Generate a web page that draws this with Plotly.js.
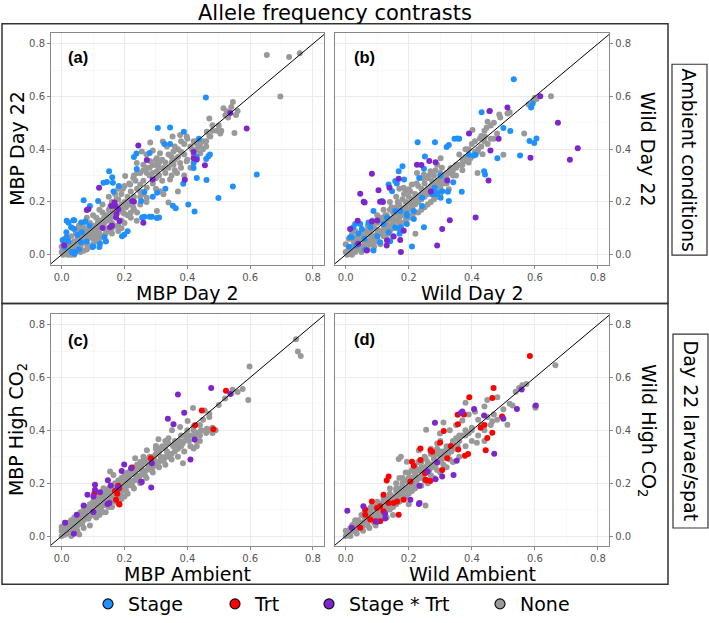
<!DOCTYPE html>
<html>
<head>
<meta charset="utf-8">
<script src="https://cdn.plot.ly/plotly-3.0.1.min.js"></script>
<style>html,body{margin:0;padding:0;background:#fff;}#chart{width:709px;height:623px;}</style>
</head>
<body>
<div id="chart"></div>
<script>
// ---------------- DATA ----------------
const legendLabels = ['Stage', 'Trt', 'Stage * Trt', 'None'];
const panelLabels = ['(a)', '(b)', '(c)', '(d)'];
const xTitles = ['MBP Day 2', 'Wild Day 2', 'MBP Ambient', 'Wild Ambient'];
const yTitles = ['MBP Day 22', 'Wild Day 22', 'MBP High CO<sub>2</sub>', 'Wild High CO<sub>2</sub>'];
const stripLabels = ['Ambient conditions', 'Day 22 larvae/spat'];
const tickVals = [0, 0.2, 0.4, 0.6, 0.8];
const identity = [-0.1, 1.0];

// Panel (a): MBP Day 2 vs MBP Day 22
const aNone = [[0.653,0.757],[0.724,0.75],[0.758,0.764],[0.696,0.60],[0.545,0.579],[0.526,0.544],[0.56,0.545],[0.521,0.529],[0.55,0.461],[0.508,0.47],[0.494,0.47],[0.47,0.516],[0.48,0.491],[0.462,0.466],[0.473,0.448],[0.441,0.423],[0.45,0.43],[0.43,0.398],[0.441,0.385],[0.398,0.354],[0.377,0.348],[0.356,0.341],[0.367,0.31],[0.345,0.285],[0.324,0.329],[0.303,0.316],[0.29,0.31],[0.271,0.31],[0.26,0.341],[0.282,0.354],[0.303,0.366],[0.313,0.385],[0.335,0.41],[0.353,0.448],[0.377,0.454],[0.398,0.448],[0.356,0.391],[0.322,0.429],[0.282,0.425],[0.255,0.391],[0.239,0.348],[0.228,0.291],[0.202,0.298],[0.218,0.266],[0.25,0.266],[0.271,0.254],[0.29,0.27],[0.313,0.241],[0.271,0.216],[0.25,0.22],[0.228,0.179],[0.239,0.129],[0.303,0.166],[0.324,0.229],[0.34,0.198],[0.37,0.24],[0.39,0.3],[0.41,0.33],[0.43,0.42],[0.45,0.4],[0.46,0.41],[0.415,0.4],[0.42,0.43],[0.38,0.39],[0.36,0.36],[0.34,0.33],[0.31,0.3],[0.3,0.29],[0.28,0.3],[0.26,0.28],[0.27,0.33],[0.25,0.31],[0.24,0.25],[0.22,0.24],[0.21,0.22],[0.2,0.2],[0.19,0.23],[0.18,0.21],[0.17,0.19],[0.16,0.2],[0.15,0.17],[0.14,0.15],[0.13,0.16],[0.12,0.13],[0.11,0.14],[0.1,0.11],[0.09,0.12],[0.08,0.09],[0.07,0.1],[0.06,0.07],[0.05,0.06],[0.04,0.05],[0.03,0.04],[0.02,0.03],[0.01,0.02],[0.0,0.01],[0.005,0.0],[0.015,0.005],[0.025,0.015],[0.035,0.02],[0.045,0.03],[0.055,0.04],[0.065,0.05],[0.075,0.06],[0.085,0.07],[0.095,0.08],[0.105,0.09],[0.115,0.1],[0.125,0.11],[0.135,0.12],[0.145,0.13],[0.155,0.14],[0.165,0.15],[0.175,0.16],[0.185,0.17],[0.195,0.16],[0.205,0.18],[0.215,0.19],[0.16,0.12],[0.14,0.1],[0.12,0.08],[0.1,0.06],[0.08,0.04],[0.06,0.03],[0.04,0.02],[0.02,0.01],[0.01,0.04],[0.02,0.06],[0.03,0.07],[0.05,0.09],[0.06,0.1],[0.07,0.12],[0.08,0.14],[0.1,0.15],[0.12,0.17],[0.13,0.19],[0.15,0.22],[0.17,0.23],[0.2,0.26],[0.23,0.3],[0.18,0.25],[0.11,0.07],[0.13,0.07],[0.15,0.09],[0.17,0.11],[0.19,0.13],[0.21,0.15],[0.23,0.17],[0.25,0.19],[0.27,0.2],[0.22,0.14],[0.26,0.23],[0.3,0.25],[0.32,0.28],[0.35,0.3],[0.33,0.35],[0.31,0.33],[0.29,0.34],[0.36,0.32],[0.38,0.33],[0.4,0.36],[0.42,0.38],[0.44,0.41],[0.39,0.42],[0.37,0.4],[0.35,0.37],[0.46,0.43],[0.47,0.45],[0.48,0.47],[0.5,0.49],[0.53,0.52],[0.515,0.555],[0.54,0.56],[0.555,0.53],[0.505,0.46],[0.24,0.16],[0.2,0.12],[0.18,0.09],[0.14,0.05],[0.09,0.03],[0.07,0.015],[0.03,0.0],[0.0,0.03],[0.005,0.05],[0.01,0.06],[0.27,0.38],[0.29,0.395],[0.3,0.36],[0.2,0.155],[0.16,0.08],[0.11,0.05],[0.02,0.0],[0.03,0.025],[0.05,0.035],[0.06,0.055],[0.07,0.045],[0.09,0.065],[0.1,0.09],[0.11,0.1],[0.12,0.12],[0.13,0.13],[0.14,0.14],[0.15,0.15],[0.16,0.16],[0.17,0.17],[0.18,0.18],[0.19,0.19],[0.13,0.11],[0.15,0.13],[0.17,0.15],[0.19,0.17],[0.21,0.2],[0.23,0.22],[0.25,0.24],[0.1,0.04],[0.08,0.02],[0.06,0.01],[0.04,0.0],[0.12,0.06],[0.14,0.08],[0.16,0.1],[0.18,0.11],[0.22,0.16],[0.19,0.1],[0.045,0.08],[0.035,0.1],[0.055,0.11],[0.075,0.08],[0.095,0.1],[0.115,0.12],[0.135,0.14],[0.155,0.185],[0.175,0.21],[0.195,0.25],[0.215,0.27],[0.235,0.28],[0.24,0.31],[0.26,0.32],[0.28,0.33],[0.3,0.34],[0.32,0.36],[0.34,0.38],[0.36,0.41],[0.38,0.43],[0.4,0.44],[0.31,0.35],[0.33,0.31],[0.35,0.35],[0.37,0.37],[0.39,0.38],[0.41,0.41],[0.43,0.43]];
const aStage = [[0.459,0.596],[0.306,0.48],[0.345,0.482],[0.389,0.466],[0.437,0.44],[0.238,0.384],[0.28,0.386],[0.327,0.42],[0.345,0.42],[0.467,0.373],[0.472,0.38],[0.46,0.363],[0.42,0.329],[0.43,0.291],[0.461,0.283],[0.621,0.304],[0.545,0.259],[0.499,0.215],[0.403,0.19],[0.423,0.164],[0.354,0.186],[0.363,0.176],[0.31,0.141],[0.287,0.144],[0.263,0.144],[0.199,0.076],[0.387,0.269],[0.151,0.316],[0.144,0.276],[0.161,0.294],[0.239,0.325],[0.133,0.273],[0.163,0.273],[0.182,0.26],[0.07,0.206],[0.09,0.185],[0.116,0.204],[0.016,0.129],[0.04,0.131],[0.062,0.122],[0.075,0.126],[0.088,0.11],[0.04,0.097],[0.009,0.029],[0.04,0.004],[0.12,0.029],[0.099,0.029],[0.136,0.066],[0.192,0.07],[0.21,0.089],[0.253,0.204],[0.256,0.141],[0.28,0.144],[0.303,0.139],[0.304,0.235],[0.29,0.22],[0.022,0.121],[0.037,0.131],[0.03,0.104],[0.064,0.085],[0.1,0.031],[0.122,0.041],[0.141,0.051],[0.061,0.047],[0.032,0.01],[0.044,0.011],[0.016,0.066],[0.003,0.056],[0.022,0.05],[0.055,0.02],[0.08,0.05],[0.015,0.085],[0.05,0.075],[0.165,0.24],[0.23,0.37],[0.42,0.348],[0.33,0.25],[0.43,0.37],[0.263,0.238]];
const aInter = [[0.537,0.537],[0.589,0.479],[0.244,0.414],[0.271,0.359],[0.42,0.389],[0.42,0.366],[0.43,0.361],[0.456,0.339],[0.392,0.284],[0.119,0.254],[0.085,0.172],[0.26,0.121],[0.13,0.101],[0.154,0.104],[0.175,0.154],[0.18,0.172],[0.17,0.185],[0.23,0.201],[0.008,0.036],[0.08,0.169],[0.168,0.198],[0.158,0.185],[0.173,0.141],[0.184,0.128],[0.16,0.11],[0.224,0.204],[0.29,0.285]];

// Panel (b): Wild Day 2 vs Wild Day 22
const bNone = [[0.651,0.601],[0.596,0.585],[0.605,0.59],[0.566,0.46],[0.5,0.379],[0.513,0.535],[0.487,0.532],[0.455,0.544],[0.402,0.4725],[0.45,0.504],[0.447,0.481],[0.441,0.448],[0.426,0.441],[0.418,0.391],[0.434,0.381],[0.396,0.366],[0.375,0.354],[0.418,0.31],[0.354,0.341],[0.333,0.329],[0.301,0.366],[0.29,0.341],[0.269,0.316],[0.248,0.304],[0.226,0.31],[0.274,0.279],[0.301,0.266],[0.327,0.248],[0.221,0.079],[0.2,0.248],[0.21,0.266],[0.184,0.254],[0.35,0.33],[0.34,0.3],[0.32,0.31],[0.31,0.29],[0.3,0.31],[0.28,0.3],[0.26,0.29],[0.25,0.27],[0.24,0.25],[0.23,0.26],[0.22,0.23],[0.21,0.21],[0.2,0.22],[0.19,0.2],[0.18,0.21],[0.17,0.19],[0.16,0.18],[0.15,0.16],[0.14,0.17],[0.13,0.15],[0.12,0.13],[0.11,0.14],[0.1,0.12],[0.09,0.1],[0.08,0.09],[0.07,0.08],[0.06,0.07],[0.05,0.06],[0.04,0.05],[0.03,0.04],[0.02,0.03],[0.01,0.02],[0.0,0.01],[0.0,0.04],[0.01,0.06],[0.02,0.08],[0.03,0.09],[0.005,0.0],[0.015,0.005],[0.03,0.01],[0.045,0.02],[0.06,0.03],[0.075,0.04],[0.09,0.05],[0.1,0.06],[0.11,0.08],[0.12,0.09],[0.13,0.1],[0.14,0.11],[0.15,0.12],[0.16,0.13],[0.17,0.14],[0.18,0.15],[0.19,0.16],[0.2,0.17],[0.21,0.18],[0.22,0.19],[0.23,0.2],[0.24,0.21],[0.25,0.22],[0.26,0.23],[0.27,0.24],[0.28,0.25],[0.29,0.26],[0.3,0.28],[0.31,0.27],[0.32,0.29],[0.33,0.31],[0.34,0.32],[0.36,0.34],[0.37,0.36],[0.38,0.37],[0.39,0.4],[0.4,0.42],[0.41,0.43],[0.43,0.45],[0.44,0.47],[0.46,0.49],[0.47,0.5],[0.49,0.52],[0.52,0.54],[0.58,0.57],[0.6,0.595],[0.035,0.065],[0.05,0.085],[0.07,0.11],[0.085,0.13],[0.1,0.15],[0.12,0.17],[0.14,0.2],[0.16,0.22],[0.17,0.25],[0.19,0.24],[0.08,0.06],[0.1,0.08],[0.12,0.11],[0.135,0.08],[0.15,0.1],[0.17,0.12],[0.19,0.13],[0.21,0.15],[0.23,0.16],[0.25,0.18],[0.27,0.2],[0.29,0.22],[0.15,0.07],[0.13,0.06],[0.11,0.04],[0.09,0.03],[0.07,0.02],[0.05,0.01],[0.02,0.015],[0.04,0.035],[0.06,0.05],[0.08,0.075],[0.1,0.095],[0.12,0.115],[0.14,0.135],[0.16,0.155],[0.18,0.175],[0.2,0.195],[0.22,0.21],[0.24,0.23],[0.26,0.25],[0.28,0.27],[0.3,0.25],[0.32,0.27],[0.35,0.3],[0.37,0.32],[0.39,0.35],[0.36,0.38],[0.38,0.4],[0.42,0.4],[0.44,0.43],[0.46,0.44],[0.48,0.46],[0.05,0.03],[0.07,0.05],[0.09,0.07],[0.11,0.09],[0.13,0.12],[0.15,0.14],[0.17,0.16],[0.19,0.18],[0.21,0.2],[0.23,0.22],[0.25,0.24],[0.27,0.26],[0.29,0.28],[0.31,0.3],[0.33,0.32],[0.35,0.34],[0.37,0.34],[0.39,0.37],[0.41,0.39],[0.43,0.41],[0.45,0.42],[0.47,0.44],[0.2,0.14],[0.22,0.16],[0.24,0.17],[0.26,0.19],[0.28,0.21],[0.3,0.23],[0.18,0.12],[0.16,0.1],[0.14,0.09],[0.12,0.07],[0.1,0.05],[0.08,0.04],[0.06,0.04],[0.04,0.02],[0.02,0.0],[0.01,0.01],[0.03,0.02],[0.025,0.05],[0.045,0.07],[0.065,0.09],[0.085,0.11],[0.105,0.13],[0.125,0.15],[0.145,0.18],[0.165,0.2],[0.185,0.23],[0.205,0.24],[0.225,0.27],[0.245,0.29],[0.265,0.3],[0.285,0.32],[0.305,0.33]];
const bStage = [[0.533,0.665],[0.588,0.558],[0.593,0.573],[0.431,0.54],[0.522,0.469],[0.354,0.441],[0.345,0.44],[0.36,0.44],[0.327,0.416],[0.32,0.408],[0.283,0.426],[0.228,0.426],[0.412,0.379],[0.406,0.376],[0.439,0.316],[0.442,0.304],[0.481,0.366],[0.553,0.376],[0.583,0.431],[0.598,0.424],[0.605,0.441],[0.368,0.239],[0.341,0.275],[0.324,0.239],[0.29,0.235],[0.282,0.254],[0.248,0.326],[0.233,0.291],[0.251,0.372],[0.18,0.335],[0.157,0.279],[0.162,0.27],[0.185,0.285],[0.242,0.185],[0.248,0.104],[0.216,0.135],[0.194,0.154],[0.21,0.031],[0.171,0.079],[0.175,0.104],[0.141,0.051],[0.109,0.047],[0.088,0.166],[0.12,0.116],[0.078,0.104],[0.046,0.116],[0.024,0.104],[0.014,0.066],[0.033,0.035],[0.062,0.019],[0.088,0.016],[0.131,0.141],[0.157,0.166],[0.242,0.216],[0.274,0.229],[0.301,0.216],[0.168,0.316],[0.136,0.266],[0.147,0.241],[0.115,0.204],[0.03,0.116],[0.019,0.066],[0.051,0.097],[0.072,0.122],[0.136,0.085],[0.157,0.104],[0.173,0.091],[0.194,0.116],[0.194,0.148],[0.216,0.166],[0.173,0.166],[0.285,0.229],[0.306,0.241],[0.327,0.204],[0.01,0.03],[0.04,0.08],[0.06,0.06],[0.1,0.07],[0.5,0.48],[0.39,0.38],[0.3,0.3]];
const bInter = [[0.617,0.601],[0.513,0.558],[0.457,0.545],[0.391,0.46],[0.485,0.44],[0.459,0.395],[0.586,0.368],[0.673,0.5],[0.736,0.404],[0.711,0.36],[0.453,0.281],[0.412,0.141],[0.33,0.131],[0.29,0.035],[0.175,0.01],[0.083,0.307],[0.046,0.231],[0.057,0.201],[0.104,0.244],[0.109,0.201],[0.118,0.2],[0.139,0.254],[0.168,0.288],[0.226,0.341],[0.285,0.351],[0.322,0.281],[0.184,0.091],[0.152,0.069],[0.13,0.035],[0.083,0.126],[0.04,0.041],[0.067,0.016],[0.06,0.198],[0.038,0.129],[0.014,0.097],[0.173,0.056],[0.131,0.054],[0.306,0.097],[0.24,0.34],[0.265,0.355],[0.1,0.13],[0.27,0.24]];

// Panel (c): MBP Ambient vs MBP High CO2
const cNone = [[0.746,0.744],[0.752,0.698],[0.761,0.681],[0.598,0.641],[0.594,0.515],[0.576,0.556],[0.544,0.553],[0.5,0.496],[0.47,0.463],[0.462,0.406],[0.475,0.403],[0.441,0.396],[0.43,0.39],[0.418,0.484],[0.401,0.435],[0.377,0.4125],[0.351,0.4],[0.308,0.366],[0.3,0.341],[0.329,0.331],[0.356,0.344],[0.37,0.35],[0.386,0.275],[0.42,0.331],[0.271,0.325],[0.287,0.294],[0.255,0.281],[0.234,0.294],[0.228,0.244],[0.207,0.2],[0.188,0.169],[0.165,0.231],[0.154,0.244],[0.133,0.181],[0.069,0.0875],[0.056,0.006],[0.45,0.44],[0.44,0.42],[0.42,0.4],[0.41,0.38],[0.4,0.37],[0.39,0.36],[0.38,0.34],[0.37,0.33],[0.36,0.32],[0.35,0.31],[0.34,0.3],[0.33,0.3],[0.32,0.29],[0.31,0.28],[0.3,0.27],[0.29,0.26],[0.28,0.255],[0.27,0.25],[0.26,0.24],[0.25,0.23],[0.24,0.22],[0.23,0.21],[0.22,0.2],[0.21,0.19],[0.2,0.18],[0.19,0.17],[0.18,0.16],[0.17,0.15],[0.16,0.14],[0.15,0.135],[0.14,0.125],[0.13,0.115],[0.12,0.105],[0.11,0.095],[0.1,0.085],[0.09,0.075],[0.08,0.07],[0.07,0.06],[0.06,0.05],[0.05,0.04],[0.04,0.03],[0.03,0.02],[0.02,0.015],[0.01,0.005],[0.0,0.0],[0.005,0.02],[0.015,0.03],[0.025,0.04],[0.035,0.05],[0.045,0.06],[0.055,0.07],[0.065,0.08],[0.075,0.09],[0.085,0.1],[0.095,0.11],[0.105,0.12],[0.115,0.13],[0.125,0.14],[0.135,0.15],[0.145,0.16],[0.155,0.17],[0.165,0.18],[0.175,0.19],[0.185,0.2],[0.195,0.21],[0.205,0.22],[0.215,0.23],[0.225,0.24],[0.235,0.25],[0.245,0.26],[0.255,0.27],[0.265,0.28],[0.3,0.31],[0.31,0.33],[0.32,0.34],[0.33,0.36],[0.34,0.37],[0.3,0.33],[0.28,0.3],[0.26,0.3],[0.24,0.27],[0.22,0.25],[0.2,0.23],[0.18,0.21],[0.16,0.19],[0.14,0.17],[0.12,0.15],[0.1,0.13],[0.08,0.11],[0.06,0.09],[0.04,0.07],[0.02,0.05],[0.01,0.035],[0.11,0.07],[0.13,0.09],[0.15,0.11],[0.17,0.13],[0.19,0.14],[0.21,0.16],[0.23,0.18],[0.25,0.2],[0.27,0.22],[0.29,0.24],[0.31,0.26],[0.33,0.27],[0.35,0.29],[0.37,0.3],[0.39,0.32],[0.41,0.34],[0.43,0.36],[0.44,0.38],[0.46,0.39],[0.48,0.41],[0.49,0.4],[0.47,0.45],[0.455,0.475],[0.42,0.415],[0.4,0.4],[0.38,0.38],[0.36,0.36],[0.34,0.35],[0.54,0.54],[0.52,0.52],[0.56,0.545],[0.09,0.04],[0.07,0.03],[0.05,0.02],[0.03,0.0],[0.2,0.15],[0.18,0.13],[0.16,0.11],[0.14,0.09],[0.12,0.08],[0.025,0.01],[0.045,0.025],[0.065,0.045],[0.085,0.065],[0.105,0.08],[0.125,0.1],[0.145,0.115],[0.165,0.135],[0.185,0.155],[0.205,0.17],[0.225,0.19],[0.245,0.21],[0.265,0.23],[0.285,0.25],[0.305,0.27],[0.325,0.285],[0.345,0.31],[0.365,0.33],[0.385,0.35],[0.405,0.36],[0.425,0.38],[0.445,0.4],[0.015,0.015],[0.035,0.035],[0.055,0.055],[0.075,0.075],[0.095,0.095],[0.115,0.11],[0.135,0.13],[0.155,0.15],[0.175,0.165],[0.195,0.19],[0.215,0.21],[0.235,0.23],[0.255,0.25],[0.275,0.27],[0.295,0.29],[0.315,0.3],[0.335,0.32],[0.355,0.34],[0.375,0.36],[0.395,0.38],[0.0,0.02],[0.0,0.035],[0.01,0.05],[0.03,0.06],[0.05,0.08],[0.07,0.1],[0.09,0.12],[0.11,0.14],[0.13,0.16],[0.15,0.18],[0.17,0.2],[0.19,0.22],[0.21,0.24],[0.23,0.26],[0.25,0.28],[0.27,0.29],[0.29,0.3],[0.31,0.32],[0.33,0.34],[0.44,0.36],[0.43,0.34],[0.47,0.4],[0.48,0.39]];
const cTrt = [[0.523,0.55],[0.446,0.475],[0.425,0.419],[0.483,0.404],[0.284,0.294],[0.223,0.259],[0.183,0.181],[0.177,0.16],[0.183,0.121],[0.104,0.162],[0.173,0.1375],[0.184,0.119],[0.18,0.19],[0.17,0.17]];
const cInter = [[0.476,0.56],[0.37,0.535],[0.537,0.5375],[0.39,0.466],[0.338,0.444],[0.356,0.4225],[0.423,0.365],[0.41,0.29],[0.287,0.275],[0.285,0.184],[0.255,0.204],[0.199,0.271],[0.191,0.246],[0.147,0.211],[0.156,0.191],[0.106,0.194],[0.106,0.175],[0.082,0.156],[0.101,0.15],[0.146,0.121],[0.179,0.185],[0.011,0.05],[0.039,0.009],[0.048,0.081],[0.122,0.166],[0.152,0.125],[0.07,0.116],[0.101,0.091],[0.253,0.206],[0.221,0.256]];

// Panel (d): Wild Ambient vs Wild High CO2
const dNone = [[0.665,0.646],[0.573,0.575],[0.539,0.546],[0.602,0.485],[0.529,0.494],[0.513,0.421],[0.481,0.525],[0.449,0.515],[0.38,0.504],[0.465,0.434],[0.416,0.3525],[0.37,0.4375],[0.299,0.3875],[0.255,0.4025],[0.282,0.319],[0.253,0.294],[0.168,0.291],[0.232,0.325],[0.194,0.281],[0.205,0.206],[0.253,0.116],[0.5,0.48],[0.47,0.46],[0.45,0.45],[0.43,0.42],[0.42,0.44],[0.4,0.41],[0.39,0.39],[0.38,0.4],[0.37,0.38],[0.36,0.36],[0.35,0.37],[0.34,0.35],[0.33,0.33],[0.32,0.34],[0.31,0.32],[0.3,0.3],[0.29,0.31],[0.28,0.29],[0.27,0.27],[0.26,0.28],[0.25,0.26],[0.24,0.24],[0.23,0.25],[0.22,0.23],[0.21,0.22],[0.2,0.2],[0.19,0.21],[0.18,0.19],[0.17,0.18],[0.16,0.17],[0.15,0.15],[0.14,0.16],[0.13,0.14],[0.12,0.13],[0.11,0.12],[0.1,0.1],[0.09,0.11],[0.08,0.09],[0.07,0.08],[0.06,0.07],[0.05,0.05],[0.04,0.05],[0.03,0.04],[0.02,0.02],[0.01,0.02],[0.0,0.0],[0.005,0.01],[0.015,0.03],[0.025,0.045],[0.035,0.025],[0.045,0.035],[0.055,0.04],[0.065,0.05],[0.075,0.06],[0.085,0.07],[0.095,0.08],[0.105,0.09],[0.115,0.1],[0.125,0.11],[0.135,0.12],[0.145,0.13],[0.155,0.14],[0.165,0.15],[0.175,0.16],[0.185,0.17],[0.195,0.18],[0.205,0.19],[0.215,0.2],[0.225,0.21],[0.235,0.22],[0.245,0.23],[0.255,0.24],[0.265,0.25],[0.275,0.26],[0.285,0.27],[0.295,0.28],[0.305,0.29],[0.315,0.3],[0.325,0.31],[0.335,0.32],[0.345,0.33],[0.355,0.34],[0.06,0.09],[0.08,0.11],[0.1,0.13],[0.12,0.15],[0.14,0.18],[0.16,0.2],[0.18,0.22],[0.2,0.24],[0.22,0.26],[0.24,0.28],[0.05,0.08],[0.03,0.06],[0.1,0.07],[0.12,0.09],[0.14,0.1],[0.16,0.12],[0.18,0.14],[0.2,0.16],[0.22,0.18],[0.24,0.19],[0.26,0.2],[0.28,0.22],[0.3,0.24],[0.32,0.26],[0.34,0.28],[0.36,0.3],[0.07,0.04],[0.09,0.05],[0.11,0.06],[0.13,0.07],[0.15,0.08],[0.2,0.12],[0.42,0.38],[0.44,0.4],[0.46,0.42],[0.48,0.44],[0.39,0.46],[0.41,0.47],[0.44,0.49],[0.52,0.5],[0.55,0.56],[0.56,0.57],[0.6,0.49],[0.35,0.42],[0.33,0.4],[0.3,0.36],[0.31,0.43],[0.27,0.33],[0.29,0.35],[0.175,0.3],[0.4,0.36],[0.44,0.36],[0.38,0.34],[0.025,0.02],[0.045,0.04],[0.065,0.06],[0.085,0.08],[0.105,0.1],[0.125,0.12],[0.145,0.14],[0.165,0.16],[0.185,0.18],[0.205,0.2],[0.225,0.22],[0.245,0.24],[0.265,0.26],[0.285,0.28],[0.305,0.3],[0.325,0.32],[0.02,0.04],[0.04,0.06],[0.06,0.08],[0.08,0.1],[0.1,0.12],[0.12,0.14],[0.14,0.15],[0.16,0.18],[0.18,0.2],[0.2,0.22],[0.22,0.24],[0.24,0.26],[0.26,0.27],[0.28,0.3],[0.3,0.32],[0.32,0.33],[0.34,0.36],[0.36,0.38],[0.38,0.38],[0.4,0.4],[0.015,0.0],[0.035,0.01],[0.055,0.02],[0.075,0.03],[0.095,0.04],[0.11,0.08],[0.13,0.1],[0.15,0.11],[0.17,0.13],[0.19,0.15],[0.21,0.17],[0.23,0.19],[0.25,0.21],[0.27,0.23],[0.29,0.25],[0.31,0.27],[0.33,0.29],[0.01,0.01],[0.0,0.02],[0.17,0.22],[0.19,0.24],[0.21,0.25],[0.23,0.28],[0.25,0.3],[0.27,0.31],[0.29,0.33]];
const dTrt = [[0.584,0.681],[0.469,0.56],[0.392,0.525],[0.465,0.5225],[0.355,0.459],[0.375,0.46],[0.356,0.4225],[0.311,0.3975],[0.428,0.41],[0.44,0.42],[0.465,0.391],[0.449,0.371],[0.496,0.4525],[0.388,0.31],[0.378,0.304],[0.444,0.325],[0.357,0.3275],[0.333,0.341],[0.299,0.3525],[0.269,0.325],[0.322,0.294],[0.306,0.25],[0.258,0.21],[0.268,0.208],[0.21,0.281],[0.216,0.266],[0.136,0.225],[0.13,0.21],[0.168,0.081],[0.152,0.125],[0.184,0.1375],[0.083,0.131],[0.099,0.106],[0.062,0.081],[0.078,0.0625],[0.109,0.056],[0.046,0.031],[0.237,0.2875],[0.251,0.2375],[0.12,0.156],[0.237,0.331],[0.274,0.319],[0.205,0.206],[0.253,0.2125],[0.163,0.131],[0.136,0.125],[0.109,0.1125],[0.062,0.1],[0.12,0.094],[0.094,0.056]];
const dInter = [[0.558,0.554],[0.603,0.494],[0.543,0.481],[0.5,0.444],[0.407,0.481],[0.37,0.471],[0.439,0.456],[0.283,0.429],[0.471,0.311],[0.352,0.285],[0.342,0.231],[0.306,0.225],[0.285,0.215],[0.29,0.279],[0.26,0.244],[0.234,0.19],[0.205,0.1375],[0.234,0.125],[0.125,0.084],[0.056,0.1125],[0.005,0.096],[0.019,0.031],[0.099,0.054],[0.125,0.066],[0.232,0.121],[0.365,0.465]];

// ---------------- STYLE ----------------
const COL = {stage:'#1E90FF', trt:'#FF0000', inter:'#7D26CD', none:'#999999'};
const W = 709, H = 623;
const FONT = 'DejaVu Sans';
const px = v => v / W, py = v => 1 - v / H;

function pts(arr, color, n) {
  return {type:'scatter', mode:'markers', x:arr.map(p=>p[0]), y:arr.map(p=>p[1]),
    xaxis:'x'+n, yaxis:'y'+n, marker:{color:color, size:6}, showlegend:false, hoverinfo:'skip'};
}
function diag(n) {
  return {type:'scatter', mode:'lines', x:identity, y:identity, xaxis:'x'+n, yaxis:'y'+n,
    line:{color:'#000', width:1}, showlegend:false, hoverinfo:'skip'};
}
function legendKey(name, color, leg) {
  return {type:'scatter', mode:'markers', x:[null], y:[null], name:name, legend:leg,
    marker:{color:color, size:10, line:{color:'#111', width:1.2}}, hoverinfo:'skip'};
}

const traces = [
  pts(aNone, COL.none, ''), pts(aStage, COL.stage, ''), pts(aInter, COL.inter, ''), diag(''),
  pts(bNone, COL.none, '2'), pts(bStage, COL.stage, '2'), pts(bInter, COL.inter, '2'), diag('2'),
  pts(cNone, COL.none, '3'), pts(cTrt, COL.trt, '3'), pts(cInter, COL.inter, '3'), diag('3'),
  pts(dNone, COL.none, '4'), pts(dTrt, COL.trt, '4'), pts(dInter, COL.inter, '4'), diag('4'),
  legendKey(legendLabels[0], COL.stage, 'legend'),
  legendKey(legendLabels[1], COL.trt, 'legend2'),
  legendKey(legendLabels[2], COL.inter, 'legend3'),
  legendKey(legendLabels[3], COL.none, 'legend4')
];

function axis(domain, range, anchor, extra) {
  return Object.assign({
    domain:domain, range:range, anchor:anchor, tickvals:tickVals, tickformat:'.1f',
    ticks:'outside', ticklen:3, tickwidth:1, tickcolor:'#888',
    tickfont:{family:FONT, size:10, color:'#555'},
    showline:true, mirror:true, linecolor:'#888', linewidth:1,
    showgrid:true, gridcolor:'#EBEBEB', gridwidth:1,
    minor:{dtick:0.1, tick0:0, showgrid:true, gridcolor:'#F4F4F4', gridwidth:0.6},
    zeroline:false, fixedrange:true
  }, extra || {});
}
const XR = [-0.034, 0.836], YR = [-0.038, 0.841];
const xL = [px(51), px(324.3)], xR = [px(335), px(609.3)];
const yT = [py(267.7), py(33.3)], yB = [py(552.3), py(317.3)];

function ann(text, x, y, size, angle, extra) {
  return Object.assign({xref:'paper', yref:'paper', x:px(x), y:py(y), xanchor:'center', yanchor:'middle',
    showarrow:false, text:text, textangle:angle || 0, font:{family:FONT, size:size, color:'#000'}}, extra || {});
}
function rect(x0, y0, x1, y1, w) {
  return {type:'rect', xref:'paper', yref:'paper', x0:px(x0), x1:px(x1), y0:py(y0), y1:py(y1),
    line:{color:'#333', width:w}, fillcolor:'rgba(0,0,0,0)', layer:'above'};
}
function leg(x) {
  return {x:px(x), y:py(611), xanchor:'left', yanchor:'middle', orientation:'h', bgcolor:'rgba(0,0,0,0)',
    font:{family:FONT, size:19, color:'#000'}, itemclick:false, itemdoubleclick:false};
}
const boldLab = (t, x, y) => ann('<b>' + t + '</b>', x, y, 16, 0, {font:{family:'Liberation Sans', size:16.5, color:'#000'}});

const layout = {
  width:W, height:H, margin:{l:0, r:0, t:0, b:0}, paper_bgcolor:'#fff', plot_bgcolor:'#fff',
  xaxis:axis(xL, XR, 'y'), yaxis:axis(yT, YR, 'x'),
  xaxis2:axis(xR, XR, 'y2'), yaxis2:axis(yT, YR, 'x2', {side:'right'}),
  xaxis3:axis(xL, XR, 'y3'), yaxis3:axis(yB, YR, 'x3'),
  xaxis4:axis(xR, XR, 'y4'), yaxis4:axis(yB, YR, 'x4', {side:'right'}),
  legend:leg(88), legend2:leg(215), legend3:leg(309), legend4:leg(480),
  shapes:[rect(2, 24, 668, 307, 1.5), rect(2, 307, 668, 591, 1.5),
          rect(672, 65, 707, 258, 1.2), rect(673, 338, 708, 534, 1.2)],
  annotations:[
    ann('Allele frequency contrasts', 335, 13, 21, 0),
    ann(xTitles[0], 187.5, 296.5, 19, 0), ann(xTitles[1], 472, 296, 19, 0),
    ann(xTitles[2], 187.5, 581, 19, 0), ann(xTitles[3], 472, 580.5, 19, 0),
    ann(yTitles[0], 17, 150.5, 19, -90), ann(yTitles[2], 17, 435, 19, -90),
    ann(yTitles[1], 648, 150.5, 19, 90), ann(yTitles[3], 648, 435, 19, 90),
    ann(stripLabels[0], 689.5, 161.5, 19, 90), ann(stripLabels[1], 690.5, 436, 19, 90),
    boldLab(panelLabels[0], 77.5, 57.5), boldLab(panelLabels[1], 364, 57.5),
    boldLab(panelLabels[2], 77.5, 344), boldLab(panelLabels[3], 364, 343)
  ]
};

Plotly.newPlot('chart', traces, layout, {displayModeBar:false, staticPlot:true});
</script>
</body>
</html>
